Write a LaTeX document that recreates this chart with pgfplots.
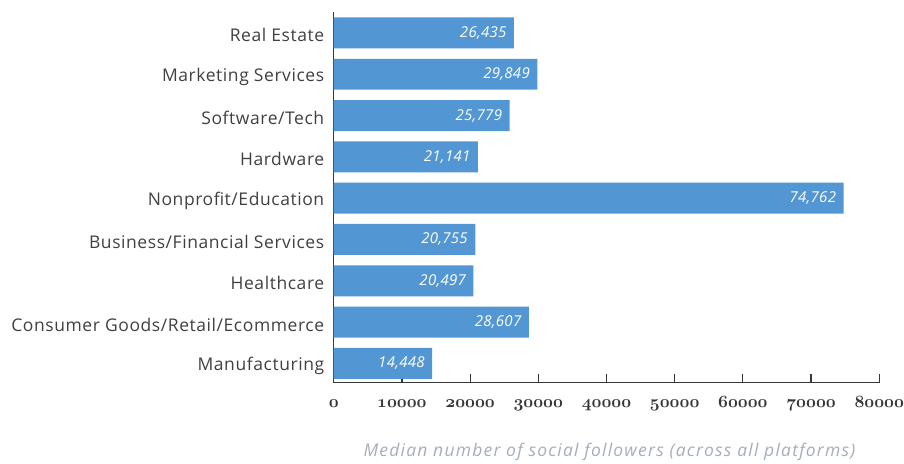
\documentclass[border=0pt]{standalone}
\usepackage{fontspec}
\setmainfont{Open Sans}
\usepackage{pgfplots}
\pgfplotsset{compat=1.18}
\definecolor{barblue}{RGB}{82,151,211}
\definecolor{axgray}{RGB}{55,55,55}
\definecolor{lblgray}{RGB}{64,64,64}
\definecolor{titgray}{RGB}{165,172,188}
\newcommand{\os}[1]{{\usefont{OML}{cmm}{b}{it}#1}}
\begin{document}
\begin{tikzpicture}
\begin{axis}[
  name=ax,
  scale only axis,
  width=546bp, height=371bp,
  xbar, bar width=0.75,
  xmin=0, xmax=80000,
  ymin=-0.466, ymax=8.507,
  axis x line*=bottom, axis y line*=left,
  axis line style={-, draw=axgray, line width=1.2bp},
  scaled x ticks=false,
  xtick={0,10000,20000,30000,40000,50000,60000,70000,80000},
  xticklabels={\os{0},\os{10000},\os{20000},\os{30000},\os{40000},\os{50000},\os{60000},\os{70000},\os{80000}},
  xtick align=inside,
  major tick length=9bp,
  tick style={draw=axgray, line width=1.2bp},
  xticklabel style={font=\fontsize{17.5bp}{20bp}\selectfont, text=axgray, yshift=-14bp, inner xsep=0pt, text height=7.8bp, text depth=0pt},
  ytick={0,...,8},
  yticklabels={Manufacturing,Consumer Goods/Retail/Ecommerce,Healthcare,Business/Financial Services,Nonprofit/Education,Hardware,Software/Tech,Marketing Services,Real Estate},
  ytick style={draw=none},
  yticklabel style={font=\fontsize{17.5bp}{19bp}\selectfont\addfontfeature{LetterSpace=3.3}, text=lblgray, xshift=3bp, yshift=-2.5bp},
  xlabel={\itshape\addfontfeature{LetterSpace=7}Median number of social followers (across all platforms)},
  xlabel style={font=\fontsize{17.5bp}{19bp}\selectfont, text=titgray, yshift=-28bp, xshift=3bp},
  nodes near coords={\itshape\pgfmathprintnumber[assume math mode=true]{\pgfplotspointmeta}},
  nodes near coords style={anchor=east, text=white, font=\fontsize{15bp}{17bp}\selectfont\addfontfeature{LetterSpace=2}, xshift=-4bp},
  point meta=x,
  clip=false,
]
\addplot[fill=barblue, draw=none] coordinates {
(14448,0) (28607,1) (20497,2) (20755,3) (74762,4) (21141,5) (25779,6) (29849,7) (26435,8)
};
\end{axis}
\path ([shift={(-334bp,-80.7bp)}]ax.south west) rectangle ([shift={(24bp,12bp)}]ax.north east);
\end{tikzpicture}
\end{document}
